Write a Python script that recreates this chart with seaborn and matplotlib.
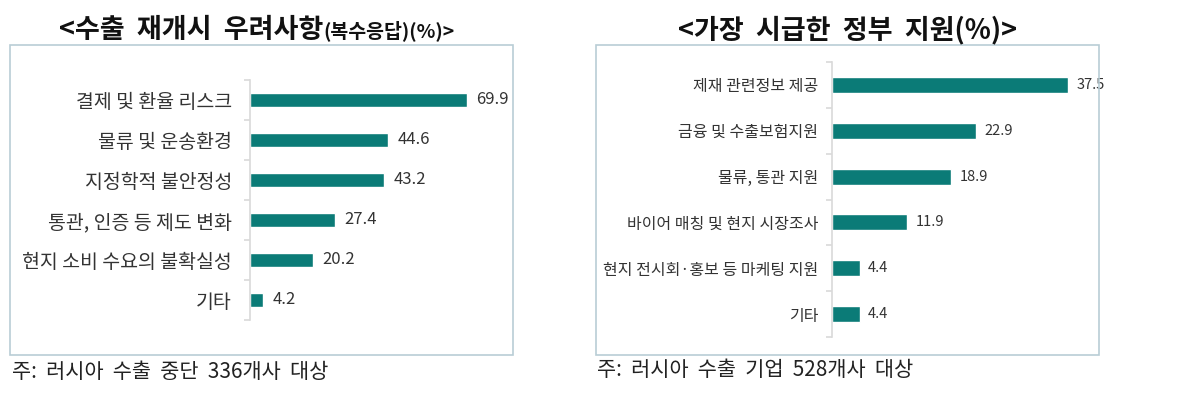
import matplotlib
matplotlib.use("Agg")
import matplotlib.pyplot as plt
import seaborn as sns
from matplotlib.patches import Rectangle

sns.set_theme(style="white")
plt.rcParams['font.family'] = ['Noto Sans CJK KR', 'DejaVu Sans']

# data
concern_labels = ["결제 및 환율 리스크", "물류 및 운송환경", "지정학적 불안정성",
                  "통관, 인증 등 제도 변화", "현지 소비 수요의 불확실성", "기타"]
concern_values = [69.9, 44.6, 43.2, 27.4, 20.2, 4.2]

support_labels = ["제재 관련정보 제공", "금융 및 수출보험지원", "물류, 통관 지원",
                  "바이어 매칭 및 현지 시장조사", "현지 전시회·홍보 등 마케팅 지원", "기타"]
support_values = [37.5, 22.9, 18.9, 11.9, 4.4, 4.4]

BAR = "#0b7b77"
W, H = 1200, 408

fig = plt.figure(figsize=(W / 100, H / 100), dpi=100)


def px_axes(x0, y0, x1, y1):
    # pixel box (top-left origin) -> figure axes
    return fig.add_axes([x0 / W, 1 - y1 / H, (x1 - x0) / W, (y1 - y0) / H])


def style_axes(ax, labels, label_size, pad):
    ax.set_ylim(len(labels) - 0.5, -0.5)
    for s in ["top", "right", "bottom"]:
        ax.spines[s].set_visible(False)
    ax.spines["left"].set_color("#d9d9d9")
    ax.spines["left"].set_linewidth(1.2)
    ax.set_xticks([])
    ax.set_xlabel("")
    ax.set_ylabel("")
    ax.set_yticks(range(len(labels)))
    ax.set_yticklabels(labels, fontsize=label_size, color="#333333")
    ax.tick_params(axis="y", which="major", left=True, length=0, pad=pad)
    ax.set_yticks([i - 0.5 for i in range(len(labels) + 1)], minor=True)
    ax.tick_params(axis="y", which="minor", left=True, length=4, width=1.2,
                   color="#d9d9d9", direction="out")
    ax.patch.set_alpha(0)


# frames around each panel
for x0, x1 in [(10, 513), (596, 1099)]:
    fig.patches.append(Rectangle((x0 / W, 1 - 355 / H), (x1 - x0) / W, 310 / H,
                                 transform=fig.transFigure, fill=False,
                                 edgecolor="#b9cdd5", linewidth=1.2))

# left panel
ax1 = px_axes(250, 80, 498, 320)
sns.barplot(x=concern_values, y=concern_labels, ax=ax1, color=BAR,
            saturation=1, width=0.35, orient="h")
ax1.set_xlim(0, 80)
style_axes(ax1, concern_labels, 14, 13)
ax1.bar_label(ax1.containers[0], fmt="%.1f", padding=7, fontsize=12,
              color="#333333")

# right panel
ax2 = px_axes(832, 62, 1084, 337)
sns.barplot(x=support_values, y=support_labels, ax=ax2, color=BAR,
            saturation=1, width=0.35, orient="h")
ax2.set_xlim(0, 40)
style_axes(ax2, support_labels, 11.5, 10)
ax2.bar_label(ax2.containers[0], fmt="%.1f", padding=6, fontsize=10.5,
              color="#333333")

# titles
fig.text(323 / W, 1 - 30 / H, "<수출  재개시  우려사항", ha="right", va="center",
         fontsize=19.5, fontweight="bold", color="#111111")
fig.text(323 / W, 1 - 31 / H, "(복수응답)(%)>", ha="left", va="center",
         fontsize=14, fontweight="bold", color="#111111")
fig.text(847 / W, 1 - 30 / H, "<가장  시급한  정부  지원(%)>", ha="center",
         va="center", fontsize=19.5, fontweight="bold", color="#111111")

# notes
fig.text(12 / W, 1 - 372 / H, "주:  러시아  수출  중단  336개사  대상", ha="left",
         va="center", fontsize=15, color="#222222")
fig.text(597 / W, 1 - 370 / H, "주:  러시아  수출  기업  528개사  대상", ha="left",
         va="center", fontsize=15, color="#222222")

fig.savefig("out.png", dpi=100)
